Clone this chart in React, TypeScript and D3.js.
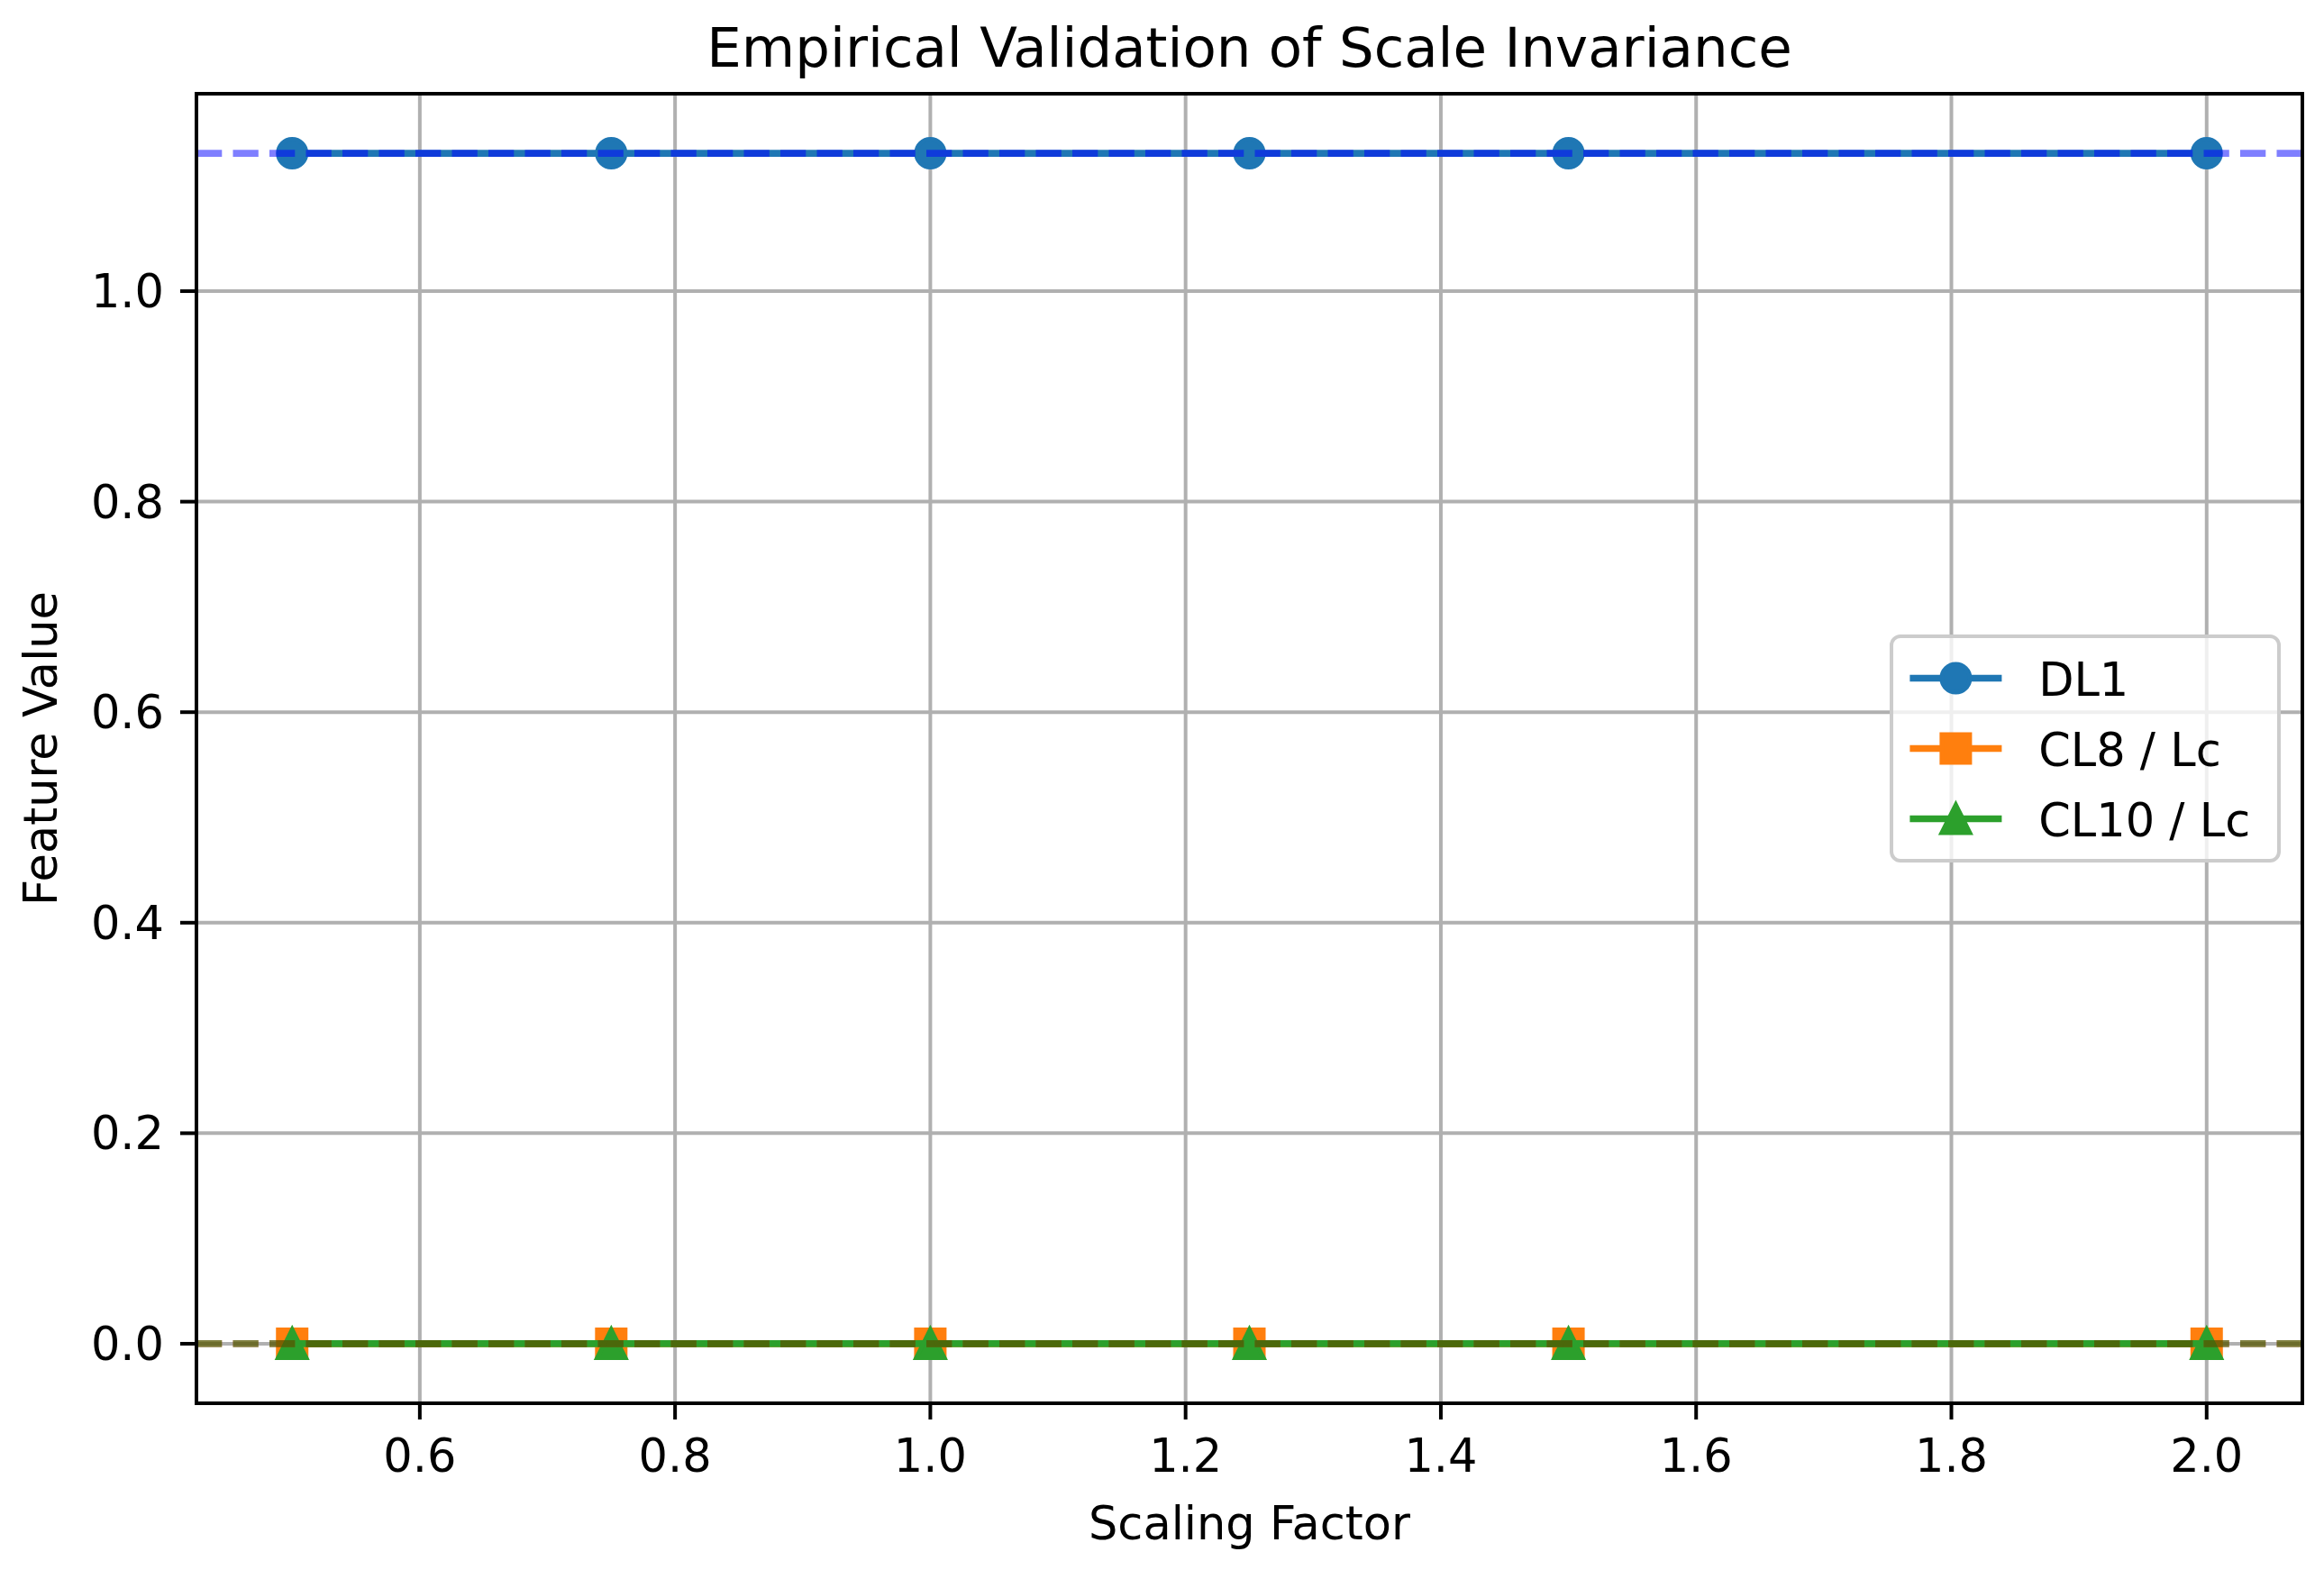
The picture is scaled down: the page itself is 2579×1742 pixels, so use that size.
import React from 'react';
import * as d3 from 'd3';

// data
const scalingFactors = [0.5, 0.75, 1.0, 1.25, 1.5, 2.0];
const dl1 = [1.131, 1.131, 1.131, 1.131, 1.131, 1.131];
const cl8 = [0, 0, 0, 0, 0, 0];
const cl10 = [0, 0, 0, 0, 0, 0];
const xTicks = [0.6, 0.8, 1.0, 1.2, 1.4, 1.6, 1.8, 2.0];
const yTicks = [0.0, 0.2, 0.4, 0.6, 0.8, 1.0];
const seriesNames = ['DL1', 'CL8 / Lc', 'CL10 / Lc'];
const seriesColors = ['#1f77b4', '#ff7f0e', '#2ca02c'];
const seriesMarkers = ['circle', 'square', 'triangle'];
// dashed reference lines (axhline) drawn on top
const refColors = ['#0000ff', '#ff0000', '#008000'];

const W = 2579;
const H = 1742;
const box = { left: 218, right: 2555, top: 104, bottom: 1557 };
const FONT = '"DejaVu Sans", sans-serif';
const FS = 51; // 10pt
const LW = 7.7; // 1.5pt
const MS = 31; // 6pt marker
const MEW = 5;

function Marker({ type, x, y, color }: { type: string; x: number; y: number; color: string }) {
  const h = MS / 2;
  if (type === 'circle') return <circle cx={x} cy={y} r={h} fill={color} stroke={color} strokeWidth={MEW} />;
  if (type === 'square') return <rect x={x - h} y={y - h} width={MS} height={MS} fill={color} stroke={color} strokeWidth={MEW} strokeLinejoin="miter" />;
  return (
    <path d={`M${x},${y - h}L${x - h},${y + h}L${x + h},${y + h}Z`} fill={color} stroke={color} strokeWidth={MEW} strokeLinejoin="miter" />
  );
}

export default function App() {
  const allY = [...dl1, ...cl8, ...cl10];
  const [ymin, ymax] = d3.extent(allY) as [number, number];
  const [xmin, xmax] = d3.extent(scalingFactors) as [number, number];
  const xm = (xmax - xmin) * 0.05;
  const ym = (ymax - ymin) * 0.05;

  const x = d3.scaleLinear().domain([xmin - xm, xmax + xm]).range([box.left, box.right]);
  const y = d3.scaleLinear().domain([ymin - ym, ymax + ym]).range([box.bottom, box.top]);

  const series = [dl1, cl8, cl10];
  const line = d3.line<number>().x((_, i) => x(scalingFactors[i])).y(d => y(d));
  const refValues = [dl1[0], cl8[0], cl10[0]];

  // legend
  const legRight = box.right - 26;
  const legW = 430;
  const legLeft = legRight - legW;
  const pad = 20;
  const rowH = 53;
  const gap = 25;
  const legH = 2 * pad + 3 * rowH + 2 * gap;
  const legTop = (box.top + box.bottom) / 2 - legH / 2;

  return (
    <svg width={W} height={H} style={{ position: 'absolute', left: 0, top: 0, background: '#fff' }} fontFamily={FONT}>
      <rect width={W} height={H} fill="#fff" />
      <defs>
        <clipPath id="plotClip">
          <rect x={box.left} y={box.top} width={box.right - box.left} height={box.bottom - box.top} />
        </clipPath>
      </defs>

      {/* grid */}
      <g stroke="#b0b0b0" strokeWidth={4}>
        {xTicks.map(t => (
          <line key={'gx' + t} x1={x(t)} x2={x(t)} y1={box.top} y2={box.bottom} />
        ))}
        {yTicks.map(t => (
          <line key={'gy' + t} x1={box.left} x2={box.right} y1={y(t)} y2={y(t)} />
        ))}
      </g>

      <g clipPath="url(#plotClip)">
        {series.map((s, si) => (
          <g key={seriesNames[si]}>
            <path d={line(s) || ''} fill="none" stroke={seriesColors[si]} strokeWidth={LW} />
            {s.map((v, i) => (
              <Marker key={i} type={seriesMarkers[si]} x={x(scalingFactors[i])} y={y(v)} color={seriesColors[si]} />
            ))}
          </g>
        ))}
        {refValues.map((v, i) => (
          <line
            key={'ref' + i}
            x1={box.left}
            x2={box.right}
            y1={y(v)}
            y2={y(v)}
            stroke={refColors[i]}
            strokeOpacity={0.5}
            strokeWidth={LW}
            strokeDasharray="28.3 12.2"
          />
        ))}
      </g>

      {/* frame */}
      <rect x={box.left} y={box.top} width={box.right - box.left} height={box.bottom - box.top} fill="none" stroke="#000" strokeWidth={4} />

      {/* x ticks */}
      {xTicks.map(t => (
        <g key={'xt' + t}>
          <line x1={x(t)} x2={x(t)} y1={box.bottom} y2={box.bottom + 18} stroke="#000" strokeWidth={4} />
          <text x={x(t)} y={1633} fontSize={FS} textAnchor="middle" fill="#000">
            {t.toFixed(1)}
          </text>
        </g>
      ))}
      {/* y ticks */}
      {yTicks.map(t => (
        <g key={'yt' + t}>
          <line x1={box.left - 18} x2={box.left} y1={y(t)} y2={y(t)} stroke="#000" strokeWidth={4} />
          <text x={box.left - 36} y={y(t) + 18} fontSize={FS} textAnchor="end" fill="#000">
            {t.toFixed(1)}
          </text>
        </g>
      ))}

      {/* labels */}
      <text x={(box.left + box.right) / 2} y={1708} fontSize={FS} textAnchor="middle" fill="#000">
        Scaling Factor
      </text>
      <text
        transform={`translate(63, ${(box.top + box.bottom) / 2}) rotate(-90)`}
        fontSize={FS}
        textAnchor="middle"
        fill="#000"
      >
        Feature Value
      </text>
      <text x={(box.left + box.right) / 2} y={74} fontSize={61} textAnchor="middle" fill="#000">
        Empirical Validation of Scale Invariance
      </text>

      {/* legend */}
      <rect x={legLeft} y={legTop} width={legW} height={legH} rx={10} fill="#fff" fillOpacity={0.8} stroke="#cccccc" strokeWidth={4} />
      {seriesNames.map((name, i) => {
        const cy = legTop + pad + rowH / 2 + i * (rowH + gap);
        const hx = legLeft + 0.4 * FS;
        return (
          <g key={'leg' + name}>
            <line x1={hx} x2={hx + 2 * FS} y1={cy} y2={cy} stroke={seriesColors[i]} strokeWidth={LW} />
            <Marker type={seriesMarkers[i]} x={hx + FS} y={cy} color={seriesColors[i]} />
            <text x={hx + 2 * FS + 0.8 * FS} y={cy + 19} fontSize={FS} fill="#000">
              {name}
            </text>
          </g>
        );
      })}
    </svg>
  );
}
